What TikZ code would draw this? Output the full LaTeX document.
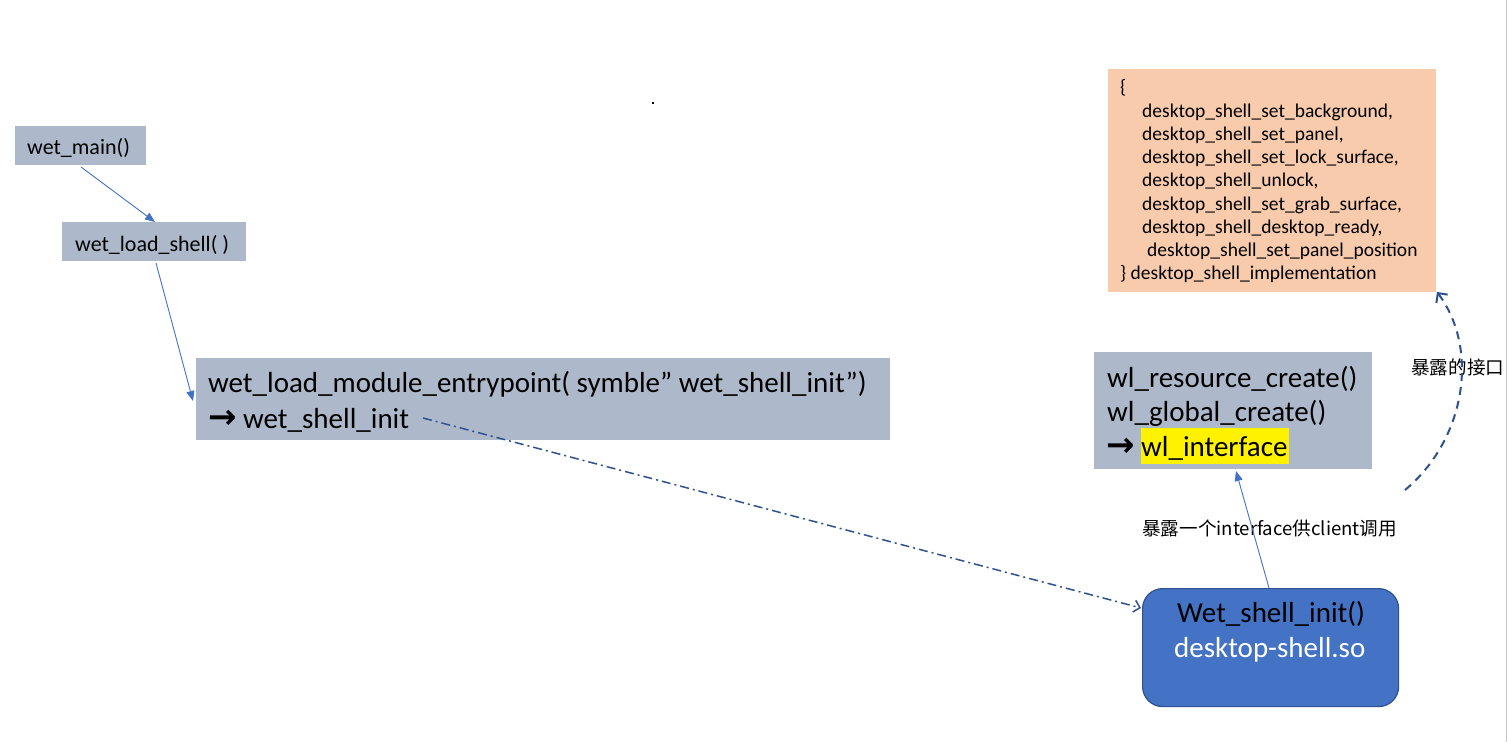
\documentclass[tikz,border=0pt]{standalone}
\usepackage{fontspec}
\setmainfont{Carlito}
\newfontfamily\cjk{Noto Sans CJK SC}
\newfontfamily\symf{DejaVu Sans}
\usetikzlibrary{arrows.meta}
\definecolor{boxgray}{HTML}{ADB9CA}
\definecolor{peach}{HTML}{F8CBAD}
\definecolor{accent}{HTML}{4472C4}
\definecolor{darkacc}{HTML}{2F528F}
\definecolor{edgegray}{HTML}{C8C8C8}
\tikzset{
  graybox/.style={fill=boxgray, draw=none, anchor=north west, inner sep=0pt},
  txt/.style={anchor=base west, inner sep=0pt, text=black},
  small/.style={font=\fontsize{22}{26}\selectfont},
  big/.style={font=\fontsize{29}{35}\selectfont},
  list/.style={font=\fontsize{19.5}{23}\selectfont},
  cjklabel/.style={font=\cjk\fontsize{18.6}{23}\selectfont},
  solidarrow/.style={draw=accent, line width=0.9pt, -{Triangle[length=10pt,width=8pt]}},
  dashdotarrow/.style={draw=darkacc, line width=1.5pt, dash pattern=on 9pt off 4pt on 2pt off 4pt, -{Straight Barb[length=6pt,width=12pt]}},
  dashedarrow/.style={draw=darkacc, line width=2pt, dash pattern=on 8pt off 6pt, -{Straight Barb[length=7pt,width=14pt]}},
}
\newcommand{\rarr}{{\symf\bfseries\fontsize{34}{34}\selectfont →}}
\begin{document}
\begin{tikzpicture}[x=1pt, y=-1pt]
\useasboundingbox (0,0) rectangle (1507,742);
\fill[white] (0,0) rectangle (1507,742);
\draw[edgegray, line width=1pt] (1506,0) -- (1506,742);
\fill[black] (652,102) rectangle (654,104);

% boxes
\node[graybox, minimum width=131pt, minimum height=39pt] (main) at (15,126) {};
\node[txt, small] (maint) at (27,154) {wet\_main()};

\node[graybox, minimum width=184pt, minimum height=39pt] (load) at (62,222) {};
\node[txt, small] (loadt) at (75,251) {wet\_load\_shell( )};

\node[graybox, minimum width=694pt, minimum height=82pt] (entry) at (196,358) {};
\node[txt, big] (entry1) at (208,392) {wet\_load\_module\_entrypoint( symble” wet\_shell\_init”)};
\node[txt, big] (entry2a) at (208,428) {\rarr};
\node[txt, big] (entry2b) at (243,428) {wet\_shell\_init};

\node[graybox, minimum width=278pt, minimum height=117pt] (wl) at (1094,352) {};
\node[txt, big] (wl1) at (1107,387) {wl\_resource\_create()};
\node[txt, big] (wl2) at (1107,421) {wl\_global\_create()};
\node[fill=yellow, anchor=north west, inner sep=0pt, minimum width=148pt, minimum height=36pt] (hl) at (1141,428) {};
\node[txt, big] (wl3a) at (1106,456) {\rarr};
\node[txt, big] (wl3b) at (1141,456) {wl\_interface};

\node[graybox, fill=peach, minimum width=328pt, minimum height=223pt] (impl) at (1108,69) {};
\node[txt, list] (i0) at (1120,93) {\{};
\node[txt, list] (i1) at (1142,117) {desktop\_shell\_set\_background,};
\node[txt, list] (i2) at (1142,140) {desktop\_shell\_set\_panel,};
\node[txt, list] (i3) at (1142,163) {desktop\_shell\_set\_lock\_surface,};
\node[txt, list] (i4) at (1142,186) {desktop\_shell\_unlock,};
\node[txt, list] (i5) at (1142,210) {desktop\_shell\_set\_grab\_surface,};
\node[txt, list] (i6) at (1142,233) {desktop\_shell\_desktop\_ready,};
\node[txt, list] (i7) at (1147,256) {desktop\_shell\_set\_panel\_position};
\node[txt, list] (i8) at (1120,279) {\} desktop\_shell\_implementation};

\node[fill=accent, draw=darkacc, line width=1.2pt, rounded corners=20pt, anchor=north west, inner sep=0pt, minimum width=256pt, minimum height=118pt] (so) at (1142,588) {};
\node[txt, big] (so1) at (1177,622) {Wet\_shell\_init()};
\node[txt, big, text=white] (so2) at (1174,657) {desktop-shell.so};

% labels
\node[txt, cjklabel] (lab1) at (1142,535) {暴露一个interface供client调用};
\node[txt, cjklabel] (lab2) at (1411,374) {暴露的接口};

% connector anchor points
\coordinate (a1s) at (81,167);
\coordinate (a1e) at (155,222);
\coordinate (a2s) at (156,263);
\coordinate (a2e) at (193,401);
\coordinate (a3s) at (423,418);
\coordinate (a3e) at (1141,608);
\coordinate (a4s) at (1269,588);
\coordinate (a4e) at (1236,471);
\coordinate (a5s) at (1405,490);
\coordinate (a5e) at (1437,292);

\draw[solidarrow] (a1s) -- (a1e);
\draw[solidarrow] (a2s) -- (a2e);
\draw[dashdotarrow] (a3s) -- (a3e);
\draw[solidarrow] (a4s) -- (a4e);
\draw[dashedarrow] (a5s) .. controls (1465,440) and (1480,350) .. (a5e);
\end{tikzpicture}
\end{document}
